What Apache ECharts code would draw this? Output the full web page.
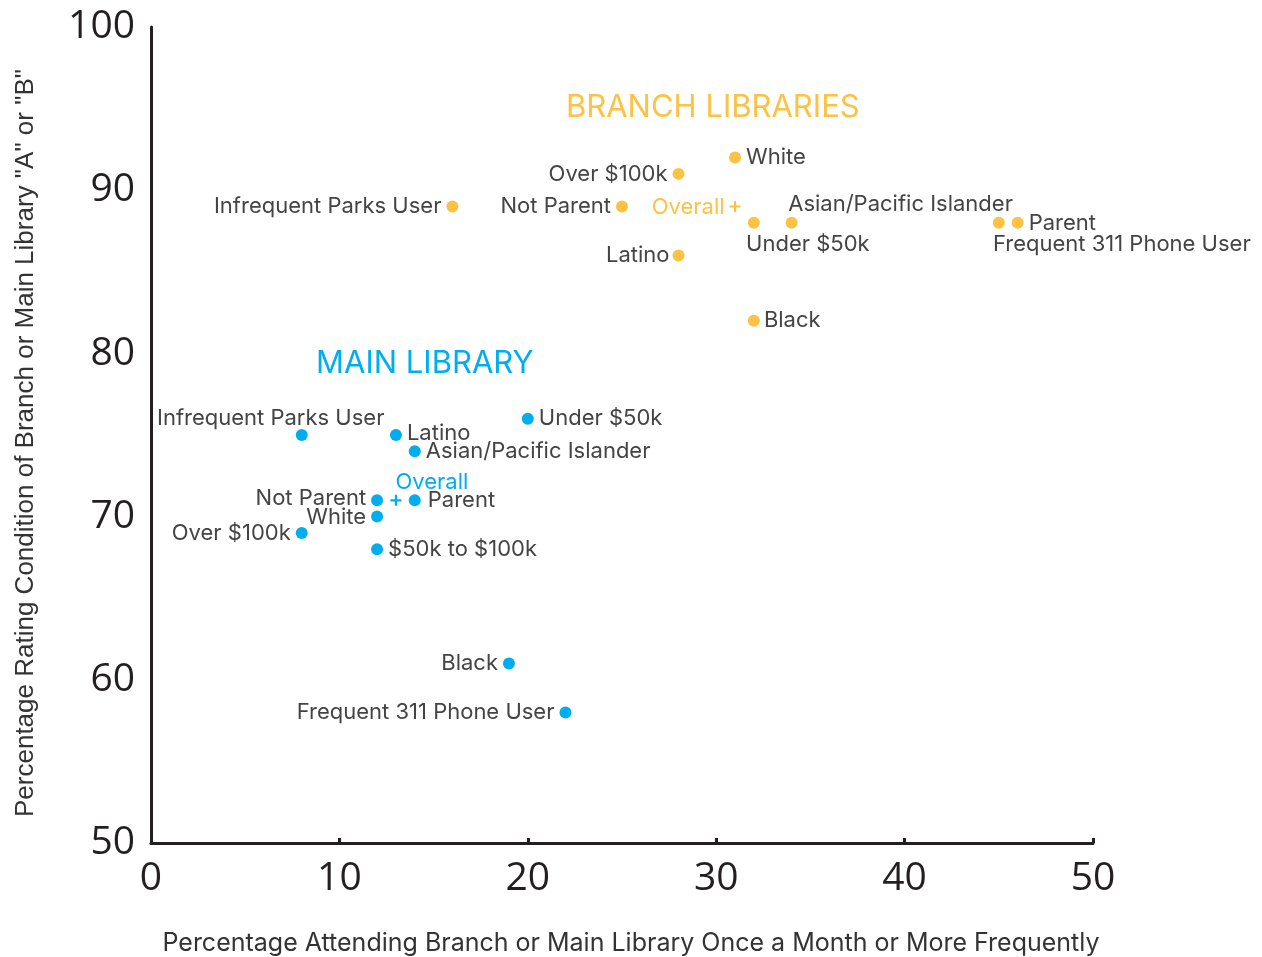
<!DOCTYPE html>
<html>
<head>
<meta charset="utf-8">
<script src="https://cdn.jsdelivr.net/npm/echarts@6/dist/echarts.min.js"></script>
<style>html,body{margin:0;padding:0;background:#fff}#chart{width:1262px;height:957px}</style>
</head>
<body>
<div id="chart"></div>
<script>
// ---- data ----
const branchNames = ['Infrequent Parks User','Not Parent','Over $100k','Overall','White','Latino','Under $50k','Asian/Pacific Islander','Parent','Frequent 311 Phone User','Black'];
const branchX = [16, 25, 28, 31, 31, 28, 32, 34, 46, 45, 32];
const branchY = [89, 89, 91, 89, 92, 86, 88, 88, 88, 88, 82];

const mainNames = ['Infrequent Parks User','Latino','Under $50k','Asian/Pacific Islander','Not Parent','Overall','Parent','White','Over $100k','$50k to $100k','Black','Frequent 311 Phone User'];
const mainX = [8, 13, 20, 14, 12, 13, 14, 12, 8, 12, 19, 22];
const mainY = [75, 75, 76, 74, 71, 71, 71, 70, 69, 68, 61, 58];

const xTicks = [0, 10, 20, 30, 40, 50];
const yTicks = [50, 60, 70, 80, 90, 100];
const xTitle = 'Percentage Attending Branch or Main Library Once a Month or More Frequently';
const yTitle = 'Percentage Rating Condition of Branch or Main Library "A" or "B"';
const branchTitle = 'BRANCH LIBRARIES';
const mainTitle = 'MAIN LIBRARY';

// ---- style / layout ----
const ORANGE = '#FBC244';
const BLUE = '#00AEEF';
const TEXT = '#444444';
const PLUS = 'path://M4,0H6V4H10V6H6V10H4V6H0V4H4Z';

const branchPlace = {
  'Infrequent Parks User': {position:'left', offset:[0,0]},
  'Not Parent': {position:'left', offset:[0,0]},
  'Over $100k': {position:'left', offset:[0,1]},
  'Overall': {position:'left', offset:[0,1]},
  'White': {position:'right', offset:[0,0]},
  'Latino': {position:'left', offset:[2,0]},
  'Under $50k': {position:'bottom', offset:[54,0]},
  'Asian/Pacific Islander': {position:'top', offset:[109,4]},
  'Parent': {position:'right', offset:[0,1]},
  'Frequent 311 Phone User': {position:'bottom', offset:[123,0]},
  'Black': {position:'right', offset:[-1,0]}
};
const mainPlace = {
  'Infrequent Parks User': {position:'top', offset:[-31,5]},
  'Latino': {position:'right', offset:[0,-2]},
  'Under $50k': {position:'right', offset:[0,0]},
  'Asian/Pacific Islander': {position:'right', offset:[0,0]},
  'Not Parent': {position:'left', offset:[0,-2]},
  'Overall': {position:'top', offset:[36,4]},
  'Parent': {position:'right', offset:[2,0]},
  'White': {position:'left', offset:[0,1]},
  'Over $100k': {position:'left', offset:[0,0]},
  '$50k to $100k': {position:'right', offset:[0,0]},
  'Black': {position:'left', offset:[0,0]},
  'Frequent 311 Phone User': {position:'left', offset:[0,0]}
};

function build(names, xs, ys, place, color) {
  return names.map((n, i) => {
    const p = place[n] || {position:'right', offset:[0,0]};
    const isOverall = n === 'Overall';
    return {
      name: n,
      value: [xs[i], ys[i]],
      symbol: isOverall ? PLUS : 'circle',
      symbolSize: isOverall ? 11 : 12,
      label: {
        show: true,
        position: p.position,
        offset: p.offset,
        distance: 5,
        color: isOverall ? color : TEXT
      }
    };
  });
}

const chart = echarts.init(document.getElementById('chart'), null, {renderer:'canvas'});
const labelFont = {fontFamily:'Inter, Roboto, sans-serif', fontSize:22, formatter:'{b}'};

chart.setOption({
  animation: false,
  grid: {left:151, right:169, top:27, bottom:114, containLabel:false, outerBoundsMode:'none'},
  xAxis: {
    type:'value', min:0, max:50, interval:10,
    name: xTitle, nameLocation:'middle', nameGap:88,
    nameTextStyle:{fontFamily:'Inter, Roboto, sans-serif', fontSize:25, color:'#333', padding:[0,0,0,18]},
    axisLine:{show:true, onZero:false, lineStyle:{color:'#231f20', width:3}},
    axisTick:{show:true, inside:true, length:5, lineStyle:{color:'#231f20', width:3}},
    axisLabel:{fontFamily:'"Open Sans", sans-serif', fontSize:39, color:'#231f20', margin:16,
      formatter: v => xTicks.includes(v) ? String(v) : ''},
    splitLine:{show:false}
  },
  yAxis: {
    type:'value', min:50, max:100, interval:10,
    name: yTitle, nameLocation:'middle', nameGap:112, nameRotate:90,
    nameTextStyle:{fontFamily:'"Liberation Sans", Arial, sans-serif', fontSize:26, color:'#333', padding:[0,16,0,0]},
    axisLine:{show:true, onZero:false, lineStyle:{color:'#231f20', width:3}},
    axisTick:{show:false},
    axisLabel:{fontFamily:'"Open Sans", sans-serif', fontSize:39, color:'#231f20', margin:16,
      formatter: v => yTicks.includes(v) ? String(v) : ''},
    splitLine:{show:false}
  },
  graphic: [
    {type:'text', left:566, top:92, style:{text:branchTitle, fill:ORANGE, font:'31px Inter, Roboto, sans-serif'}},
    {type:'text', left:316, top:348, style:{text:mainTitle, fill:BLUE, font:'31px Inter, Roboto, sans-serif'}}
  ],
  series: [
    {type:'scatter', name:'Branch', data: build(branchNames, branchX, branchY, branchPlace, ORANGE),
      itemStyle:{color:ORANGE, opacity:1}, label:labelFont, emphasis:{disabled:true}},
    {type:'scatter', name:'Main', data: build(mainNames, mainX, mainY, mainPlace, BLUE),
      itemStyle:{color:BLUE, opacity:1}, label:labelFont, emphasis:{disabled:true}}
  ]
});
</script>
</body>
</html>
